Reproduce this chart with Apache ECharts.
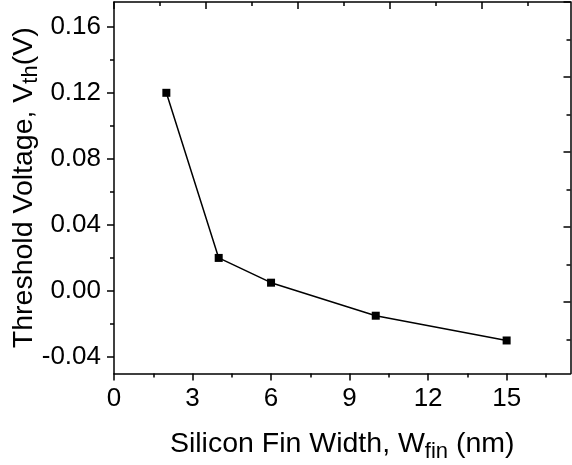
<!DOCTYPE html>
<html>
<head>
<meta charset="utf-8">
<script src="https://cdn.jsdelivr.net/npm/echarts@6/dist/echarts.min.js"></script>
<style>
  html, body { margin: 0; padding: 0; background: #fff; }
  #chart { width: 572px; height: 465px; }
</style>
</head>
<body>
<div id="chart"></div>
<script>
// fin width (nm) vs threshold voltage (V)
var finWidth = [2, 4, 6, 10, 15];
var vth = [0.12, 0.02, 0.005, -0.015, -0.03];

// bottom / left axis ticks
var xMajor = [0, 3, 6, 9, 12, 15];
var xMinor = [1.5, 4.5, 7.5, 10.5, 13.5, 16.5];
var yMajor = [-0.04, 0, 0.04, 0.08, 0.12, 0.16];
var yMinor = [-0.02, 0.02, 0.06, 0.10, 0.14];

// mirror axes (top / right) have their own tick spacing in the original
var topMajor = [0, 1, 2, 3, 4];
var topMinor = [0.5, 1.5, 2.5, 3.5, 4.5];
var rightMajor = [0, 1, 2, 3, 4];
var rightMinor = [-0.5, 0.5, 1.5, 2.5, 3.5];

var FONT = 'Liberation Sans, Arial, sans-serif';
var black = '#000';

function tickAxis(base, vals, len, inside, line) {
  var a = Object.assign({}, base);
  a.axisLine = { show: line, onZero: false, lineStyle: { color: black, width: 1.5 } };
  a.axisTick = { show: true, inside: inside, length: len, customValues: vals,
                 lineStyle: { color: black, width: 1.5 } };
  a.axisLabel = { show: false };
  a.splitLine = { show: false };
  return a;
}

var xBase = { type: 'value', min: 0, max: 17.44, position: 'bottom' };
var topBase = { type: 'value', min: 0, max: 4.96, position: 'top' };
var yBase = { type: 'value', min: -0.05, max: 0.175, position: 'left' };
var rightBase = { type: 'value', min: -0.95, max: 4.0, position: 'right' };

var subStyle = { fontSize: 22, color: black, fontFamily: FONT, padding: [14, 0, 0, 0] };

var xMain = tickAxis(xBase, xMajor, 7, false, true);
xMain.axisLabel = { show: true, customValues: xMajor, fontSize: 26, color: black,
                    fontFamily: FONT, margin: 12 };
xMain.name = 'Silicon Fin Width, W{sub|fin} (nm)';
xMain.nameLocation = 'middle';
xMain.nameGap = 53;
xMain.nameMoveOverlap = false;
xMain.nameTextStyle = { fontSize: 28.5, color: black, fontFamily: FONT, rich: { sub: subStyle } };

var yMain = tickAxis(yBase, yMajor, 7, false, true);
yMain.axisLabel = { show: true, customValues: yMajor, fontSize: 26, color: black,
                    fontFamily: FONT, margin: 13,
                    formatter: function (v) { return v.toFixed(2); } };
yMain.name = 'Threshold Voltage, V{sub|th}(V)';
yMain.nameLocation = 'middle';
yMain.nameGap = 72;
yMain.nameMoveOverlap = false;
yMain.nameTextStyle = { fontSize: 28.5, color: black, fontFamily: FONT, rich: { sub: subStyle } };

var option = {
  backgroundColor: '#fff',
  animation: false,
  grid: { left: 114, top: 2, right: 1.5, bottom: 91.5, containLabel: false, outerBoundsMode: 'none' },
  xAxis: [
    xMain,
    tickAxis(xBase, xMinor, 4, false, false),
    tickAxis(topBase, topMajor, 7, true, true),
    tickAxis(topBase, topMinor, 4, true, false)
  ],
  yAxis: [
    yMain,
    tickAxis(yBase, yMinor, 4, false, false),
    tickAxis(rightBase, rightMajor, 7, true, true),
    tickAxis(rightBase, rightMinor, 4, true, false)
  ],
  series: [{
    type: 'line',
    xAxisIndex: 0,
    yAxisIndex: 0,
    data: finWidth.map(function (x, i) { return [x, vth[i]]; }),
    symbol: 'rect',
    symbolSize: 8,
    lineStyle: { color: black, width: 1.5 },
    itemStyle: { color: black }
  }]
};

var chart = echarts.init(document.getElementById('chart'));
chart.setOption(option);
</script>
</body>
</html>
